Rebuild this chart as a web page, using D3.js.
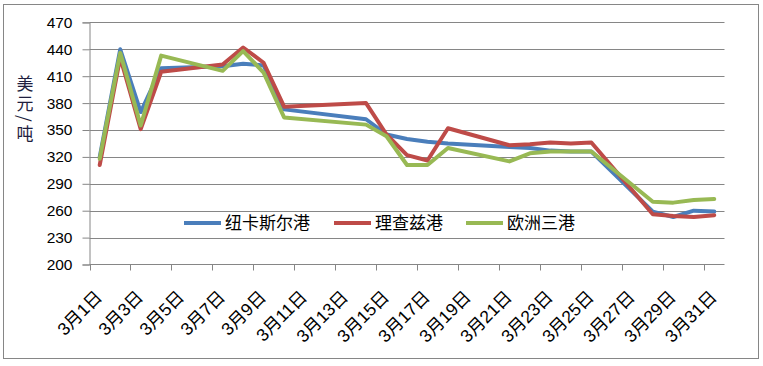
<!DOCTYPE html>
<html><head><meta charset="utf-8">
<script src="https://cdn.jsdelivr.net/npm/d3@7"></script>
<style>body{margin:0;background:#fff}svg{display:block}</style>
</head><body>
<script>
const days = d3.range(1, 32);
const dayLabels = days.map(d => `3月${d}日`);
const seriesNames = ["纽卡斯尔港", "理查兹港", "欧洲三港"];
const seriesColors = ["#4A7EBB", "#BE4B48", "#98B954"];
const yTicks = [200, 230, 260, 290, 320, 350, 380, 410, 440, 470];
const yTitle = "美元/吨";
const N = null;
// values by day (1..31); null = no quote that day
const newcastle = [320,440,370,419,N,N,421,424,422,373,N,N,N,362,345,340,337,335,N,N,331,330,327,326,326,N,N,259,253,260,259];
const richards  = [311,431,351,415,N,N,423,442,425,376,N,N,N,380,345,322,316,352,N,N,333,334,336,335,336,N,N,256,254,253,255];
const ara       = [318,436,355,433,N,N,416,438,414,364,N,N,N,356,343,311,311,330,N,N,315,324,326,326,326,N,N,270,269,272,273];
const seriesValues = [newcastle, richards, ara];

const W = 763, H = 366;
const svg = d3.select("body").append("svg").attr("width", W).attr("height", H);
svg.append("rect").attr("x", 3.5).attr("y", 4.5).attr("width", 755).attr("height", 354)
  .attr("fill", "#fff").attr("stroke", "#868686").attr("stroke-width", 1);

const x = d3.scaleBand().domain(days).range([89.5, 724.5]).padding(0);
const y = d3.scaleLinear().domain([200, 470]).range([264.5, 22.4]);
const font = "'Liberation Sans', 'Noto Sans CJK SC', sans-serif";
const gridColor = "#868686";

// gridlines
svg.append("g").selectAll("line").data(yTicks.filter(t => t > 200)).join("line")
  .attr("x1", 89.5).attr("x2", 724.5)
  .attr("y1", d => Math.round(y(d)) + 0.5).attr("y2", d => Math.round(y(d)) + 0.5)
  .attr("stroke", gridColor).attr("stroke-width", 1);

// y axis
const yAxis = d3.axisLeft(y).tickValues(yTicks).tickSizeOuter(0).tickSize(7).tickPadding(10);
const gy = svg.append("g").attr("transform", "translate(89.5,0)").call(yAxis);
gy.selectAll("line,path").attr("stroke", gridColor);
gy.selectAll("text").attr("font-family", font).attr("font-size", 15.5).attr("fill", "#000");

// x axis
const gx = svg.append("g").attr("transform", "translate(0,264.5)");
gx.append("line").attr("x1", 89.5).attr("x2", 724.5).attr("stroke", gridColor);
const shown = days.filter((d, i) => i % 2 === 0);
gx.selectAll("line.tk").data(shown).join("line").attr("class", "tk")
  .attr("x1", d => Math.round(x(d)) + 0.5).attr("x2", d => Math.round(x(d)) + 0.5)
  .attr("y1", 0).attr("y2", 6).attr("stroke", gridColor);
gx.selectAll("text").data(shown).join("text")
  .attr("transform", d => `translate(${x(d) + x.bandwidth() / 2 + 3.5},${33.5}) rotate(-45)`)
  .attr("text-anchor", "end")
  .attr("font-family", font).attr("font-size", 17.5).attr("fill", "#000")
  .text(d => dayLabels[d - 1]);

// y title (vertical, stacked)
svg.append("text")
  .attr("x", 25).attr("y", 75)
  .style("writing-mode", "vertical-rl")
  .attr("font-family", "'Noto Sans CJK SC', sans-serif").attr("font-size", 17)
  .attr("letter-spacing", 3).attr("fill", "#1F1F3F")
  .text(yTitle);

// lines
const line = d3.line()
  .x(d => x(d.day) + x.bandwidth() / 2)
  .y(d => y(d.v));
seriesValues.forEach((vals, i) => {
  const pts = days.map((d, k) => ({ day: d, v: vals[k] })).filter(p => p.v !== null);
  svg.append("path").datum(pts).attr("d", line)
    .attr("fill", "none").attr("stroke", seriesColors[i]).attr("stroke-width", 4)
    .attr("stroke-linejoin", "round").attr("stroke-linecap", "round");
});

// legend
const legX = [184, 334, 466];
const lg = svg.append("g");
seriesNames.forEach((n, i) => {
  lg.append("line").attr("x1", legX[i]).attr("x2", legX[i] + 37).attr("y1", 223).attr("y2", 223)
    .attr("stroke", seriesColors[i]).attr("stroke-width", 4);
  lg.append("text").attr("x", legX[i] + 41).attr("y", 223).attr("dy", "0.35em")
    .attr("font-family", "'Noto Sans CJK SC', sans-serif").attr("font-size", 17).attr("fill", "#000")
    .text(n);
});
</script>
</body></html>
